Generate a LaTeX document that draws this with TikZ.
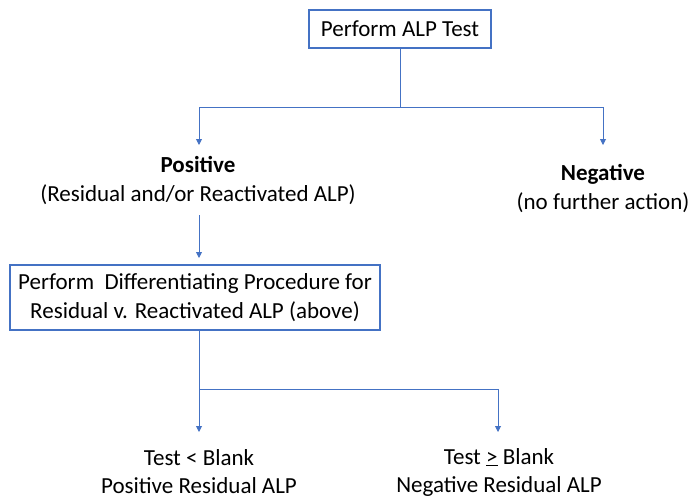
\documentclass[tikz,border=0pt]{standalone}
\usepackage{fontspec}
\setmainfont{Carlito}
\usetikzlibrary{arrows.meta}
\definecolor{lineblue}{HTML}{4472C4}
\begin{document}
\begin{tikzpicture}[x=1pt,y=-1pt,
  every node/.style={font=\fontsize{23}{29}\selectfont, text=black},
  boxnode/.style={draw=lineblue, line width=1.1pt, fill=white, inner sep=0pt, align=center},
  plain/.style={align=center, inner sep=0pt},
  conn/.style={draw=lineblue, line width=0.9pt},
  arr/.style={conn, -{Triangle[width=6pt,length=6pt]}}]
\useasboundingbox (0,0) rectangle (691,499);
% nodes
\node[boxnode, minimum width=182pt, minimum height=38pt] (test) at (400,29) {Perform ALP Test};
\node[plain] (pos) at (198,181) {\textbf{Positive}\\(Residual and/or Reactivated ALP)};
\node[plain] (neg) at (603,189) {\textbf{Negative}\\(no further action)};
\node[boxnode, minimum width=370pt, minimum height=65pt] (diff) at (195,297.5) {Perform\ \ Differentiating Procedure for\\Residual v. Reactivated ALP (above)};
\node[plain, font=\fontsize{23}{28}\selectfont] (lt) at (199,472) {Test {<} Blank\\Positive Residual ALP};
\node[plain, font=\fontsize{23}{28}\selectfont] (ge) at (499,472) {Test \underline{>} Blank\\Negative Residual ALP};
% junction coordinates
\coordinate (j1) at (400,107);
\coordinate (j1l) at (199,107);
\coordinate (j1r) at (603,107);
\coordinate (p1) at (199,145);
\coordinate (n1) at (603,145);
\coordinate (j2) at (199,389);
\coordinate (j2r) at (498,389);
\coordinate (l1) at (199,432);
\coordinate (g1) at (498,432);
\coordinate (ps) at (199,215);
\coordinate (pe) at (199,258);
% connectors
\draw[conn] (test.south) -- (j1);
\draw[conn] (j1l) -- (j1r);
\draw[arr] (j1l) -- (p1);
\draw[arr] (j1r) -- (n1);
\draw[arr] (ps) -- (pe);
\draw[conn] (diff.south -| j2) -- (j2) -- (j2r);
\draw[arr] (j2) -- (l1);
\draw[arr] (j2r) -- (g1);
\end{tikzpicture}
\end{document}
